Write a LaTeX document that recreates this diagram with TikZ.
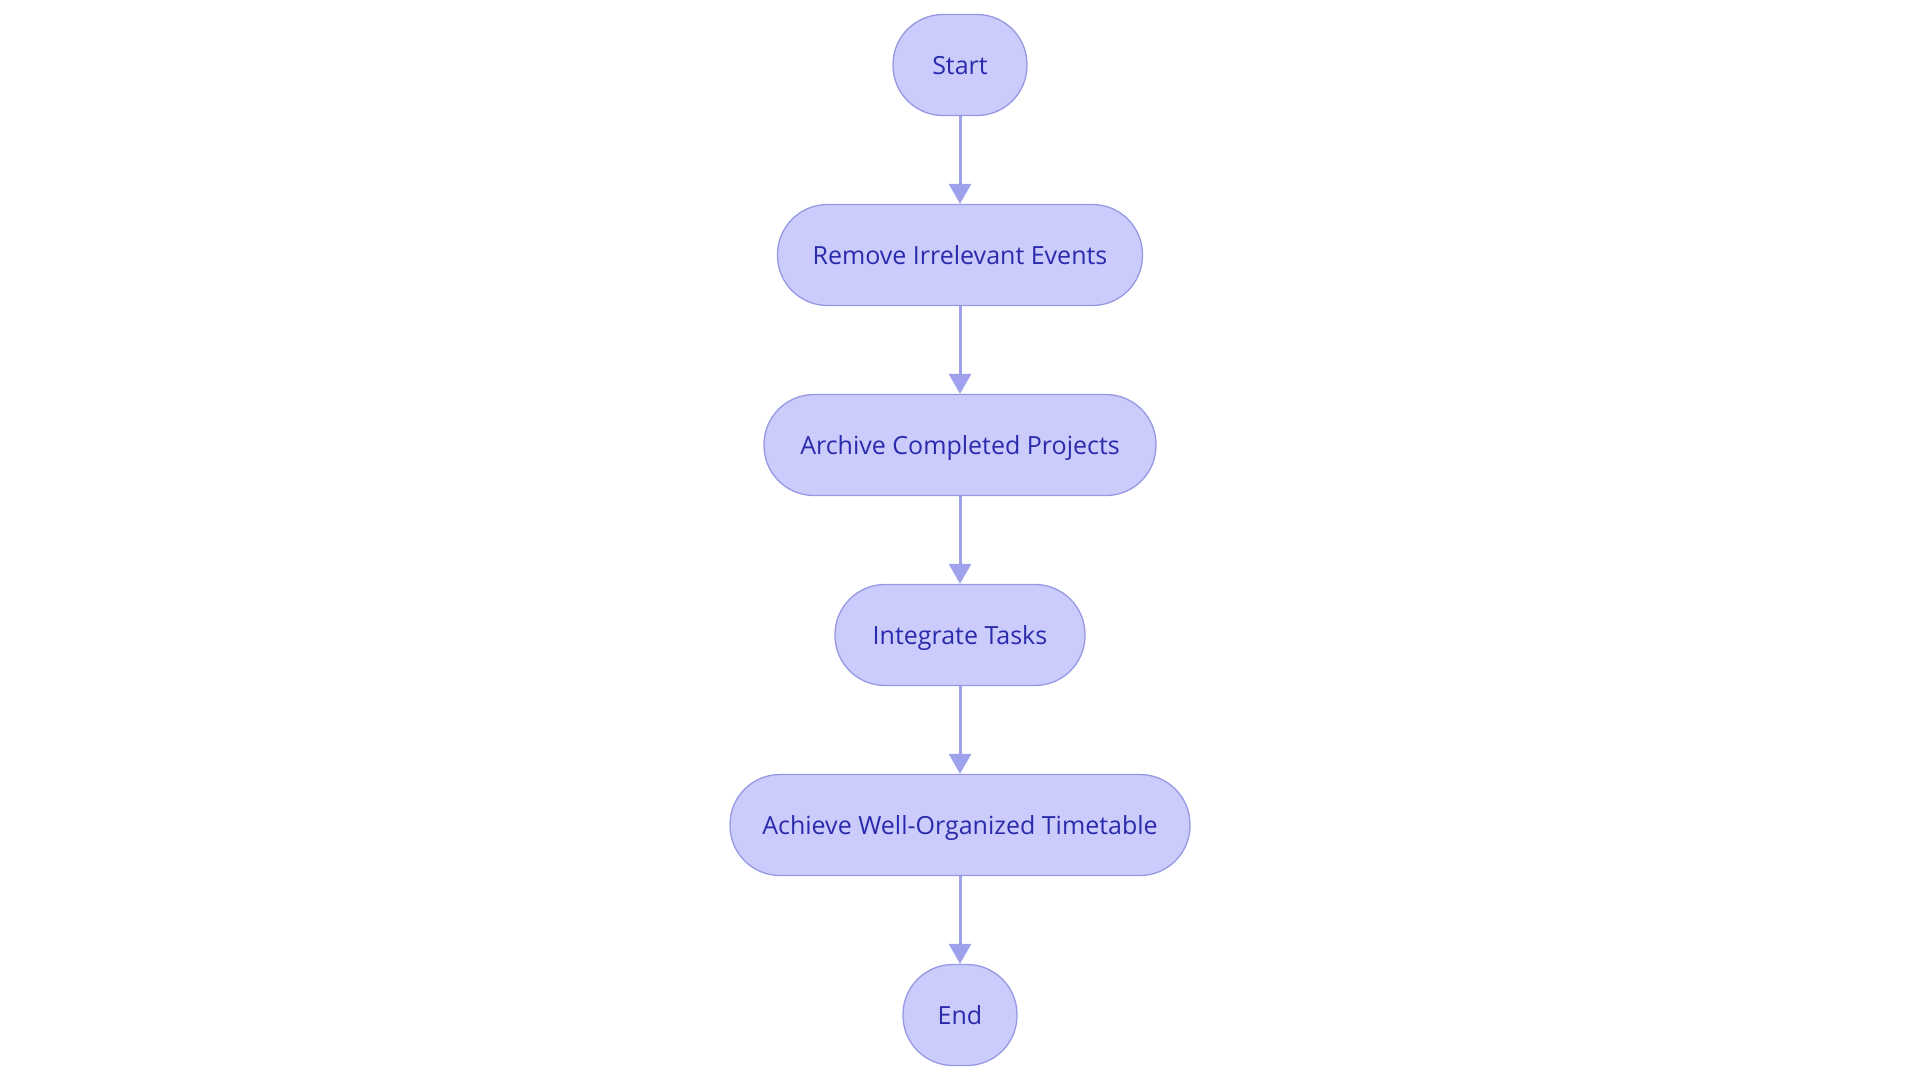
\documentclass[tikz,border=0pt]{standalone}
\usepackage{fontspec}
\setmainfont{Open Sans}
\usetikzlibrary{arrows.meta}
\definecolor{nodefill}{RGB}{203,204,252}
\definecolor{nodeborder}{RGB}{150,152,228}
\definecolor{nodetext}{RGB}{42,42,172}
\definecolor{arrowcol}{RGB}{158,162,236}
\tikzset{
  stadium/.style={draw=nodeborder, fill=nodefill, line width=1.3pt, rounded corners=50pt,
    minimum height=101pt, inner sep=0pt, text=nodetext, text height=18pt, text depth=0pt,
    font=\fontsize{25}{30}\selectfont},
  flow/.style={draw=arrowcol, line width=3pt, -{Triangle[width=22pt,length=20pt]}}
}
\begin{document}
\begin{tikzpicture}[x=1pt,y=-1pt]
\useasboundingbox (0,0) rectangle (1920,1080);
\node[stadium, minimum width=134pt] (start) at (960,65) {Start};
\node[stadium, minimum width=365pt] (remove) at (960,255) {Remove Irrelevant Events};
\node[stadium, minimum width=392pt] (archive) at (960,445) {Archive Completed Projects};
\node[stadium, minimum width=250pt] (integrate) at (960,635) {Integrate Tasks};
\node[stadium, minimum width=460pt] (achieve) at (960,825) {Achieve Well-Organized Timetable};
\node[stadium, minimum width=114pt] (end) at (960,1015) {End};
\draw[flow] (start) -- (remove);
\draw[flow] (remove) -- (archive);
\draw[flow] (archive) -- (integrate);
\draw[flow] (integrate) -- (achieve);
\draw[flow] (achieve) -- (end);
\end{tikzpicture}
\end{document}
